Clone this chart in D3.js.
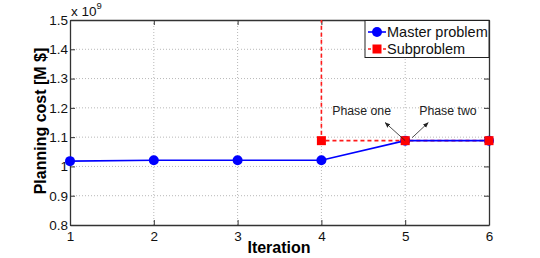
<!DOCTYPE html>
<html lang="en">
  <head>
    <meta charset="utf-8">
    <title>Planning cost per iteration</title>
    <script src="https://cdnjs.cloudflare.com/ajax/libs/d3/7.8.5/d3.min.js"></script>
  </head>
  <style media="screen">
    body { margin: 0; background: #fff; }
    svg { font-family: "Liberation Sans", Arial, sans-serif; }
    .grid line { stroke: #b8b8b8; stroke-dasharray: 1,2; }
    .tick text { font-size: 13.5px; fill: #111; }
  </style>
  <body>
    <script type="text/javascript">
      // values (cost in units of 1e9)
      const iterations = [1, 2, 3, 4, 5, 6];
      const masterCost = [1.018, 1.021, 1.021, 1.021, 1.088, 1.088];
      const subIter = [4, 4, 5, 6];
      const subCost = [1.6, 1.088, 1.088, 1.088];   // first point runs off the top
      const yTicks = [0.8, 0.9, 1, 1.1, 1.2, 1.3, 1.4, 1.5];

      const w = 540, h = 258;
      const pLeft = 70, pRight = 489, pTop = 20, pBottom = 225;

      const x = d3.scaleLinear().domain([1, 6]).range([pLeft, pRight]);
      const y = d3.scaleLinear().domain([0.8, 1.5]).range([pBottom, pTop]);

      const svg = d3.select("body").append("svg")
                    .attr("width", w)
                    .attr("height", h);

      svg.append("defs").append("clipPath").attr("id", "clip")
         .append("rect").attr("x", pLeft).attr("y", pTop)
         .attr("width", pRight - pLeft).attr("height", pBottom - pTop);

      // dotted grid
      const grid = svg.append("g").attr("class", "grid");
      grid.selectAll(".gx").data(iterations.slice(1, -1)).enter().append("line")
          .attr("x1", d => x(d)).attr("x2", d => x(d))
          .attr("y1", pTop).attr("y2", pBottom);
      grid.selectAll(".gy").data(yTicks.slice(1, -1)).enter().append("line")
          .attr("x1", pLeft).attr("x2", pRight)
          .attr("y1", d => y(d)).attr("y2", d => y(d));

      // axes, matlab style with ticks inside on all four sides
      const fmt = d => d3.format("")(d);
      svg.append("g").attr("transform", "translate(0," + pBottom + ")")
         .call(d3.axisBottom(x).tickValues(iterations).tickFormat(d3.format("d"))
               .tickSizeInner(-5).tickSizeOuter(0).tickPadding(6));
      svg.append("g").attr("transform", "translate(" + pLeft + ",0)")
         .call(d3.axisLeft(y).tickValues(yTicks).tickFormat(fmt).tickSizeInner(-5).tickSizeOuter(0).tickPadding(2));
      svg.append("g").attr("transform", "translate(0," + pTop + ")")
         .call(d3.axisTop(x).tickValues(iterations).tickSizeInner(-5).tickSizeOuter(0).tickFormat(""));
      svg.append("g").attr("transform", "translate(" + pRight + ",0)")
         .call(d3.axisRight(y).tickValues(yTicks).tickSizeInner(-5).tickSizeOuter(0).tickFormat(""));
      svg.selectAll(".domain").attr("stroke", "#333").attr("stroke-width", 1.3);
      svg.selectAll(".tick line").attr("stroke", "#333");

      // exponent label
      const expo = svg.append("text").attr("x", pLeft + 1).attr("y", 16)
                      .style("font-size", "13.5px").style("fill", "#111");
      expo.append("tspan").text("x 10");
      expo.append("tspan").attr("dy", -7).style("font-size", "9.5px").text("9");

      const line = d3.line().x(d => x(d[0])).y(d => y(d[1]));
      const plot = svg.append("g").attr("clip-path", "url(#clip)");

      // subproblem (red dashed, square markers)
      const subPts = subIter.map((d, i) => [d, subCost[i]]);
      plot.append("path").datum(subPts).attr("d", line)
          .attr("fill", "none").attr("stroke", "#ff1a1a")
          .attr("stroke-width", 1.6).attr("stroke-dasharray", "4,3");

      // master problem (blue solid, circles)
      const masterPts = iterations.map((d, i) => [d, masterCost[i]]);
      plot.append("path").datum(masterPts).attr("d", line)
          .attr("fill", "none").attr("stroke", "#0000ff").attr("stroke-width", 1.6);
      svg.selectAll(".mdot").data(masterPts).enter().append("circle")
         .attr("cx", d => x(d[0])).attr("cy", d => y(d[1])).attr("r", 5)
         .attr("fill", "#0000ff");

      svg.selectAll(".sdot").data(subPts.filter(d => d[1] <= 1.5)).enter().append("rect")
         .attr("x", d => x(d[0]) - 4.5).attr("y", d => y(d[1]) - 4.5)
         .attr("width", 9).attr("height", 9).attr("fill", "#ff0000");

      // annotations
      const marker = svg.append("defs").append("marker").attr("id", "arr")
         .attr("viewBox", "0 0 10 10").attr("refX", 9).attr("refY", 5)
         .attr("markerWidth", 7).attr("markerHeight", 7).attr("orient", "auto");
      marker.append("path").attr("d", "M0,1 L10,5 L0,9 Z").attr("fill", "#222");
      const arrows = [[5, 1.088, -20, -18], [5, 1.088, 23, -18]];
      svg.selectAll(".arrow").data(arrows).enter().append("line")
         .attr("x1", d => x(d[0]) + (d[2] > 0 ? 7 : 0)).attr("y1", d => y(d[1]) - (d[2] > 0 ? 3 : 0))
         .attr("x2", d => x(d[0]) + d[2]).attr("y2", d => y(d[1]) + d[3])
         .attr("stroke", "#222").attr("stroke-width", 0.8).attr("marker-end", "url(#arr)");
      const notes = [["Phase one", 4.48], ["Phase two", 5.51]];
      svg.selectAll(".note").data(notes).enter().append("text")
         .attr("x", d => x(d[1])).attr("y", y(1.174))
         .attr("text-anchor", "middle").style("font-size", "12.3px").style("fill", "#222")
         .text(d => d[0]);

      // legend
      const lg = svg.append("g");
      lg.append("rect").attr("x", 365).attr("y", 20.5).attr("width", 124).attr("height", 37)
        .attr("fill", "#fff").attr("stroke", "#222").attr("stroke-width", 1);
      const legendItems = [["Master problem", "#0000ff", "circle"], ["Subproblem", "#ff1a1a", "square"]];
      legendItems.forEach((d, i) => {
        const cy = 32 + i * 17;
        lg.append("line").attr("x1", 368).attr("x2", 386).attr("y1", cy).attr("y2", cy)
          .attr("stroke", d[1]).attr("stroke-width", 1.6)
          .attr("stroke-dasharray", d[2] === "square" ? "3,2" : null);
        if (d[2] === "circle") {
          lg.append("circle").attr("cx", 377).attr("cy", cy).attr("r", 5).attr("fill", d[1]);
        } else {
          lg.append("rect").attr("x", 372.5).attr("y", cy - 4.5).attr("width", 9).attr("height", 9).attr("fill", "#ff0000");
        }
        lg.append("text").attr("x", 387).attr("y", cy + 5).style("font-size", "14.5px").style("fill", "#111").text(d[0]);
      });

      // axis titles
      svg.append("text").attr("x", 279).attr("y", 253)
         .attr("text-anchor", "middle").style("font-size", "16px").style("font-weight", "bold")
         .text("Iteration");
      svg.append("text").attr("transform", "translate(46,121) rotate(-90)")
         .attr("text-anchor", "middle").style("font-size", "16px").style("font-weight", "bold")
         .text("Planning cost [M $]");
    </script>
  </body>
</html>
